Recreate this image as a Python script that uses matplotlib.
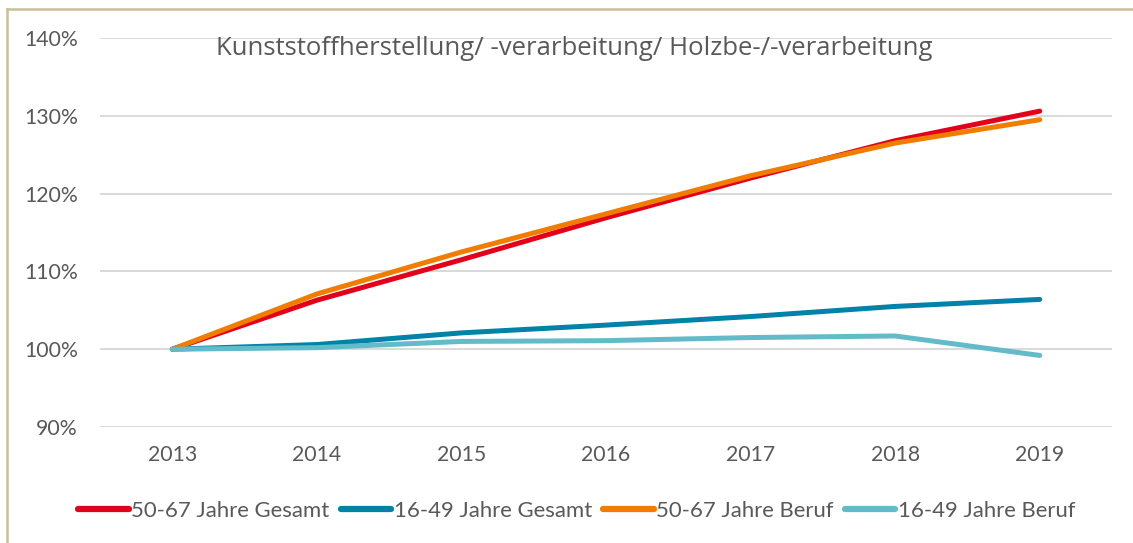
import matplotlib
matplotlib.use("Agg")
import matplotlib.pyplot as plt
from matplotlib.lines import Line2D
from matplotlib.ticker import FuncFormatter

# Index values (2013 = 100%)
years = ["2013", "2014", "2015", "2016", "2017", "2018", "2019"]
gesamt_50_67 = [100.0, 106.3, 111.5, 116.9, 122.0, 126.8, 130.6]
gesamt_16_49 = [100.0, 100.6, 102.1, 103.1, 104.2, 105.5, 106.4]
beruf_50_67 = [100.0, 107.1, 112.5, 117.4, 122.3, 126.5, 129.5]
beruf_16_49 = [100.0, 100.2, 101.0, 101.1, 101.5, 101.7, 99.2]

series_labels = ["50-67 Jahre Gesamt", "16-49 Jahre Gesamt", "50-67 Jahre Beruf", "16-49 Jahre Beruf"]
colors = ["#E2001A", "#0082A9", "#F07C00", "#63BBCA"]
title = "Kunststoffherstellung/ -verarbeitung/ Holzbe-/-verarbeitung"

text_color = "#595959"
plt.rcParams["font.family"] = ["Lato", "DejaVu Sans"]

fig = plt.figure(figsize=(11.33, 5.43), dpi=100)
ax = fig.add_axes([0.0883, 0.2136, 0.8932, 0.7164])

x = range(len(years))
for values, label, color in zip([gesamt_50_67, gesamt_16_49, beruf_50_67, beruf_16_49], series_labels, colors):
    ax.plot(x, values, color=color, lw=3.6, solid_capstyle="round", label=label, zorder=3)

ax.set_xlim(-0.5, len(years) - 0.5)
ax.set_ylim(90, 140)
ax.set_yticks(range(90, 141, 10))
ax.yaxis.set_major_formatter(FuncFormatter(lambda v, p: f"{v:.0f}%"))
ax.set_xticks(list(x))
ax.set_xticklabels(years)
ax.tick_params(length=0, labelsize=15.3, colors=text_color, pad=13)
ax.tick_params(axis="y", pad=16)
ax.grid(axis="y", color="#D9D9D9", lw=1.4, zorder=0)
for spine in ax.spines.values():
    spine.set_visible(False)

ax.text(0.469, 0.972, title, transform=ax.transAxes, ha="center", va="center",
        fontsize=18.5, color=text_color, family=["Open Sans", "DejaVu Sans"])

handles = [Line2D([], [], color=c, lw=4.5, solid_capstyle="round") for c in colors]
fig.legend(handles, series_labels, loc="center", bbox_to_anchor=(0.509, 0.059), ncol=4,
           frameon=False, fontsize=15.9, labelcolor=text_color, handlelength=2.3,
           handletextpad=0.1, columnspacing=0.5)

# outer chart frame (left and top edges visible)
fig.add_artist(Line2D([7 / 1133, 7 / 1133], [0, 1 - 9 / 543], color="#C9BF99", lw=1.8))
fig.add_artist(Line2D([7 / 1133, 1], [1 - 9 / 543, 1 - 9 / 543], color="#C9BF99", lw=1.8))

fig.savefig("out.png", dpi=100)
